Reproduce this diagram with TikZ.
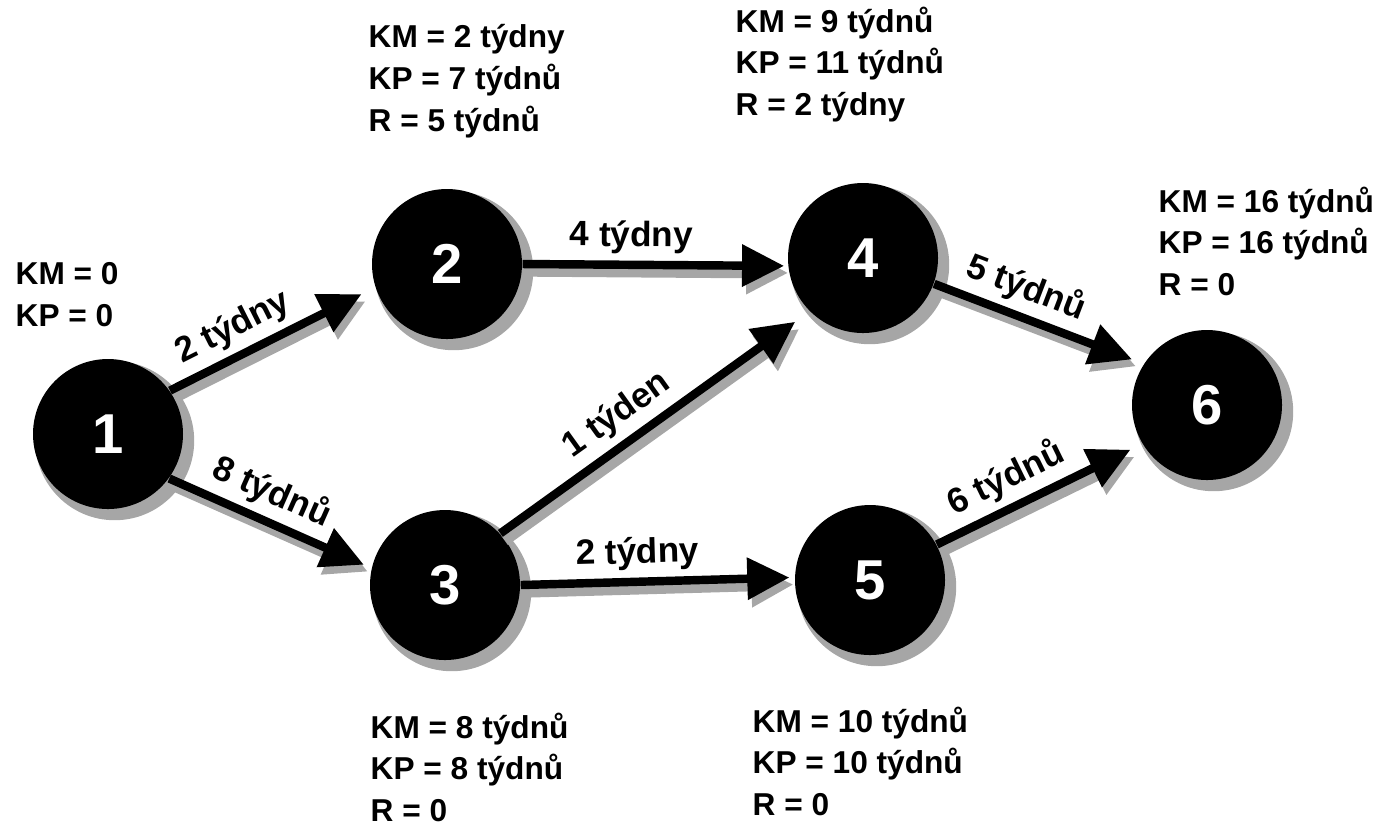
\documentclass[tikz,border=0pt]{standalone}
\usepackage{fontspec}
\setmainfont{Liberation Sans}
\usetikzlibrary{arrows.meta,shadows}

\tikzset{
  event/.style={circle, fill=black, minimum size=1.5cm, inner sep=0pt, text=white,
    font=\fontsize{16}{16}\selectfont\bfseries,
    drop shadow={shadow xshift=1.8pt, shadow yshift=-1.8pt, shadow scale=1.06, fill=black!35, opacity=1}},
  info/.style={anchor=north west, align=left, inner sep=0pt,
    font=\fontsize{9}{11.9}\selectfont\bfseries},
  act/.style={-{Triangle[length=12pt,width=11.5pt]}, line width=2.4pt,
    preaction={draw=black!35, line width=3.2pt, transform canvas={shift={(1.2pt,-2pt)}}}},
  dur/.style={sloped, above, inner sep=2pt, font=\fontsize{10}{12}\selectfont\bfseries}
}

\begin{document}
\begin{tikzpicture}[x=0.1mm, y=-0.1mm]
  \useasboundingbox (0,0) rectangle (1379,832);

  % Nodes
  \node[event] (E1) at (108,434) {1};
  \node[event] (E2) at (447,264) {2};
  \node[event] (E3) at (445,585) {3};
  \node[event] (E4) at (863,258) {4};
  \node[event] (E5) at (870,580) {5};
  \node[event] (E6) at (1207,405) {6};

  % Texts
  \node[info] (I1) at (15,262) {KM = 0\\KP = 0};
  \node[info] (I2) at (368,24) {KM = 2 týdny\\KP = 7 týdnů\\R = 5 týdnů};
  \node[info] (I3) at (370,712) {KM = 8 týdnů\\KP = 8 týdnů\\R = 0};
  \node[info] (I4) at (735,6) {KM = 9 týdnů\\KP = 11 týdnů\\R = 2 týdny};
  \node[info] (I5) at (752,706) {KM = 10 týdnů\\KP = 10 týdnů\\R = 0};
  \node[info] (I6) at (1158,186) {KM = 16 týdnů\\KP = 16 týdnů\\R = 0};

  % Arrows
  \draw[act, shorten >=4.3pt] (E1.35) -- node[dur, pos=0.37] {2 týdny} (E2.198);
  \draw[act, shorten >=2.3pt] (E1.324) -- node[dur, pos=0.45] {8 týdnů} (E3.167);
  \draw[act, shorten >=1pt] (E2.0) -- node[dur, pos=0.41] {4 týdny} (E4.186);
  \draw[act, shorten >=5pt] (E3.43) -- node[dur, pos=0.43] {1 týden} (E4.225);
  \draw[act, shorten >=1.4pt] (E3.0) -- node[dur, pos=0.43] {2 týdny} (E5.178);
  \draw[act, shorten >=3.5pt] (E4.340) -- node[dur, pos=0.39] {5 týdnů} (E6.147);
  \draw[act, shorten >=3.7pt] (E5.28) -- node[dur, pos=0.40] {6 týdnů} (E6.211);
\end{tikzpicture}
\end{document}
